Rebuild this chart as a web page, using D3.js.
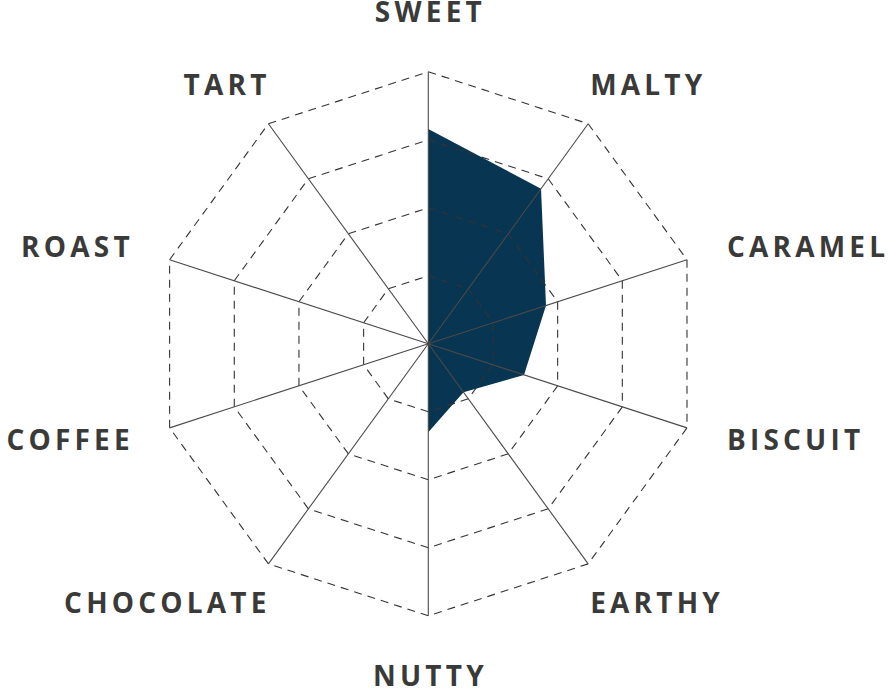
<!DOCTYPE html>
<html>
<head>
<meta charset="utf-8">
<script src="https://cdn.jsdelivr.net/npm/d3@7"></script>
<style>
  html, body { margin: 0; padding: 0; background: #ffffff; }
  svg { display: block; }
  .lbl { font-family: "Open Sans", sans-serif; font-weight: 700; font-size: 28px; letter-spacing: 4.2px; fill: #3a3a38; }
</style>
</head>
<body>
<svg id="chart" width="888" height="689"></svg>
<script>
// ---- data ----
const categories = ["SWEET", "MALTY", "CARAMEL", "BISCUIT", "EARTHY", "NUTTY", "CHOCOLATE", "COFFEE", "ROAST", "TART"];
const values = [7.9, 7.05, 4.55, 3.7, 2.2, 3.25, 0, 0, 0, 0];
const levels = [2.5, 5, 7.5, 10];
const maxValue = 10;

// ---- layout ----
const width = 888, height = 689;
const cx = 428.3, cy = 343.8, R = 272;
const spacing = 4.2;

const svg = d3.select("#chart");
const g = svg.append("g").attr("transform", `translate(${cx},${cy})`);

const rScale = d3.scaleLinear().domain([0, maxValue]).range([0, R]);
const angle = d3.scaleLinear().domain([0, categories.length]).range([0, 2 * Math.PI]);

const pt = (i, v) => {
  const a = angle(i);
  return [rScale(v) * Math.sin(a), -rScale(v) * Math.cos(a)];
};

// data polygon
const radial = d3.lineRadial()
  .angle((d, i) => angle(i))
  .radius(d => rScale(d))
  .curve(d3.curveLinearClosed);

g.append("path")
  .datum(values)
  .attr("d", radial)
  .attr("fill", "#083552")
  .attr("stroke", "none");

// dashed grid rings, drawn segment by segment
levels.forEach(lv => {
  categories.forEach((c, i) => {
    const p0 = pt(i, lv), p1 = pt(i + 1, lv);
    g.append("line")
      .attr("x1", p0[0]).attr("y1", p0[1])
      .attr("x2", p1[0]).attr("y2", p1[1])
      .attr("stroke", "#333333")
      .attr("stroke-width", 1.1)
      .attr("stroke-dasharray", "8,6");
  });
});

// axes
categories.forEach((c, i) => {
  const p = pt(i, maxValue);
  g.append("line")
    .attr("x1", 0).attr("y1", 0)
    .attr("x2", p[0]).attr("y2", p[1])
    .attr("stroke", "#4a4a4a")
    .attr("stroke-width", 1.1);
});

// labels
categories.forEach((c, i) => {
  const a = angle(i);
  const s = Math.sin(a), co = Math.cos(a);
  const v = pt(i, maxValue);
  let anchor, x;
  if (Math.abs(s) < 0.1) { anchor = "middle"; x = v[0] + spacing / 2; }
  else {
    anchor = s > 0 ? "start" : "end";
    const gap = Math.abs(s) > 0.8 ? 40 : 2;
    x = v[0] + Math.sign(s) * gap + (s < 0 ? spacing : 0);
  }
  const yc = v[1] - co * (40 + 20 * Math.pow(co, 4));
  g.append("text")
    .attr("class", "lbl")
    .attr("x", x)
    .attr("y", yc)
    .attr("dy", "0.36em")
    .attr("text-anchor", anchor)
    .text(c);
});
</script>
</body>
</html>
